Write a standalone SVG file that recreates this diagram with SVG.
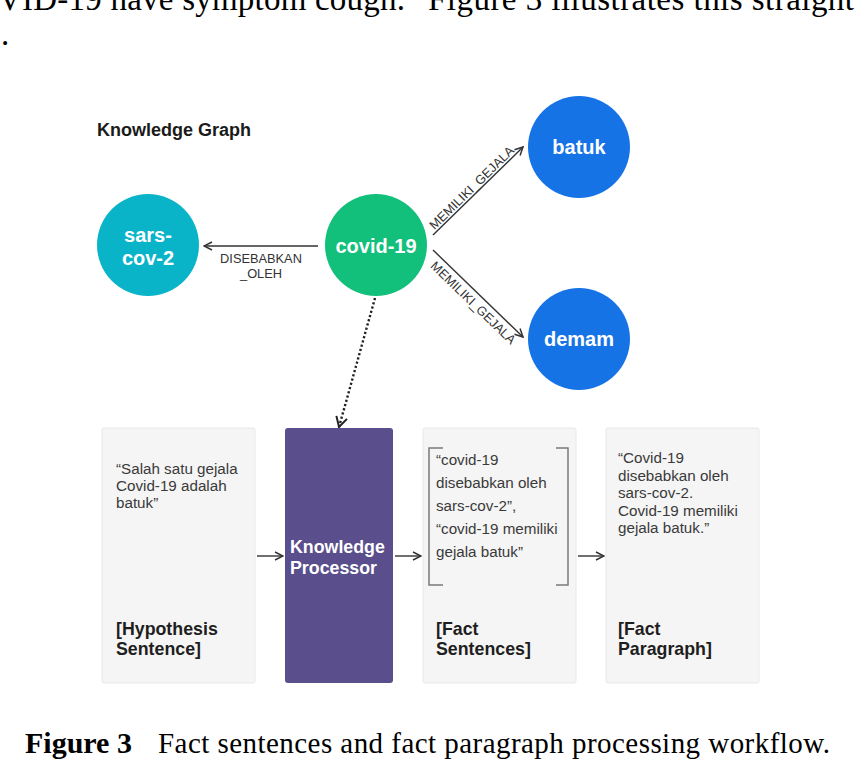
<svg xmlns="http://www.w3.org/2000/svg" width="856" height="778" viewBox="0 0 856 778">
<defs>
<style>
.serif{font-family:"Liberation Serif","Times New Roman",serif;fill:#000}
.sans{font-family:"Liberation Sans",Arial,Helvetica,sans-serif}
.node{font-family:"Liberation Sans",Arial,sans-serif;font-weight:bold;font-size:20px;fill:#fff;text-anchor:middle}
.elabel{font-family:"Liberation Sans",Arial,sans-serif;font-size:12.8px;fill:#333}
.edge{stroke:#333;stroke-width:1.4;fill:none}
.box{fill:#f5f5f5;stroke:#e8e8e8;stroke-width:1}
.body{font-family:"Liberation Sans",Arial,sans-serif;font-size:15.2px;fill:#3a3a3a}
.title{font-family:"Liberation Sans",Arial,sans-serif;font-size:17.8px;font-weight:bold;fill:#1e1e1e}
.bracket{stroke:#7a7a7a;stroke-width:1.5;fill:none}
</style>
<marker id="arr" viewBox="0 0 10 10" refX="9" refY="5" markerWidth="10" markerHeight="10" markerUnits="userSpaceOnUse" orient="auto">
<path d="M1,1 L9,5 L1,9" fill="none" stroke="#333" stroke-width="1.5"/>
</marker>
<marker id="arrBig" viewBox="0 0 14 14" refX="12" refY="7" markerWidth="14" markerHeight="14" markerUnits="userSpaceOnUse" orient="auto">
<path d="M2,1.5 L12,7 L2,12.5" fill="none" stroke="#222" stroke-width="2"/>
</marker>
</defs>
<rect width="856" height="778" fill="#fff"/>

<!-- page text -->
<text class="serif" x="-2" y="10" font-size="33" textLength="407" lengthAdjust="spacing">VID-19 have symptom cough.</text>
<text class="serif" x="428" y="10" font-size="33" textLength="426" lengthAdjust="spacing">Figure 3 illustrates this straight</text>
<text class="serif" x="1" y="45" font-size="33">.</text>

<text class="sans" x="97" y="136" font-size="18" font-weight="bold" fill="#1a1a1a" textLength="154" lengthAdjust="spacing">Knowledge Graph</text>

<!-- connectors -->
<g id="connectors">
<line class="edge" x1="318" y1="246" x2="204" y2="246" marker-end="url(#arr)"/>
<text class="elabel" x="261" y="263" text-anchor="middle">DISEBABKAN</text>
<text class="elabel" x="261" y="278" text-anchor="middle">_OLEH</text>
<line class="edge" x1="433" y1="235" x2="523" y2="147" marker-end="url(#arr)"/>
<text class="elabel" font-size="12.2" text-anchor="middle" transform="translate(474.8,190.9) rotate(-44.35)">MEMILIKI_GEJALA</text>
<line class="edge" x1="433" y1="250" x2="523" y2="337" marker-end="url(#arr)"/>
<text class="elabel" font-size="12.2" text-anchor="middle" transform="translate(470.2,305.9) rotate(44.03)">MEMILIKI_GEJALA</text>
<line x1="375" y1="298" x2="339" y2="427" stroke="#222" stroke-width="2.4" stroke-dasharray="2.2 2.2" fill="none" marker-end="url(#arrBig)"/>
<line class="edge" x1="257" y1="556" x2="283" y2="556" marker-end="url(#arr)"/>
<line class="edge" x1="395" y1="556" x2="421" y2="556" marker-end="url(#arr)"/>
<line class="edge" x1="578" y1="556" x2="604" y2="556" marker-end="url(#arr)"/>
</g>

<!-- graph nodes -->
<g id="sars">
<circle cx="148" cy="245" r="51" fill="#0ab4c8"/>
<text class="node" x="148" y="242">sars-</text>
<text class="node" x="148" y="265">cov-2</text>
</g>
<g id="covid">
<circle cx="376" cy="245" r="51" fill="#12bf7b"/>
<text class="node" x="376" y="253">covid-19</text>
</g>
<g id="batuk">
<circle cx="579" cy="147" r="51" fill="#1673e6"/>
<text class="node" x="579" y="154">batuk</text>
</g>
<g id="demam">
<circle cx="579" cy="339" r="51" fill="#1673e6"/>
<text class="node" x="579" y="346">demam</text>
</g>

<!-- workflow boxes -->
<g id="hypothesis">
<rect class="box" x="102" y="428" width="153" height="255" rx="2"/>
<text class="body" x="116" y="474">“Salah satu gejala</text>
<text class="body" x="116" y="491">Covid-19 adalah</text>
<text class="body" x="116" y="508">batuk”</text>
<text class="title" x="116" y="635">[Hypothesis</text>
<text class="title" x="116" y="655">Sentence]</text>
</g>
<g id="processor">
<rect x="285" y="428" width="108" height="255" rx="3" fill="#5a4e8c"/>
<text class="title" x="290" y="553" style="fill:#fff">Knowledge</text>
<text class="title" x="290" y="574" style="fill:#fff">Processor</text>
</g>
<g id="factsentences">
<rect class="box" x="423" y="428" width="153" height="255" rx="2"/>
<path class="bracket" d="M443,448 H429 V585 H443"/>
<path class="bracket" d="M556,448 H568 V585 H556"/>
<text class="body" x="436" y="465">“covid-19</text>
<text class="body" x="436" y="488">disebabkan oleh</text>
<text class="body" x="436" y="511">sars-cov-2”,</text>
<text class="body" x="436" y="534">“covid-19 memiliki</text>
<text class="body" x="436" y="557">gejala batuk”</text>
<text class="title" x="436" y="635">[Fact</text>
<text class="title" x="436" y="655">Sentences]</text>
</g>
<g id="factparagraph">
<rect class="box" x="606" y="428" width="153" height="255" rx="2"/>
<text class="body" x="618" y="463">“Covid-19</text>
<text class="body" x="618" y="481">disebabkan oleh</text>
<text class="body" x="618" y="498">sars-cov-2.</text>
<text class="body" x="618" y="516">Covid-19 memiliki</text>
<text class="body" x="618" y="533">gejala batuk.”</text>
<text class="title" x="618" y="635">[Fact</text>
<text class="title" x="618" y="655">Paragraph]</text>
</g>

<!-- caption -->
<text class="serif" x="25" y="753" font-size="30" font-weight="bold">Figure 3</text>
<text class="serif" x="158" y="753" font-size="29" textLength="672" lengthAdjust="spacing">Fact sentences and fact paragraph processing workflow.</text>
</svg>
